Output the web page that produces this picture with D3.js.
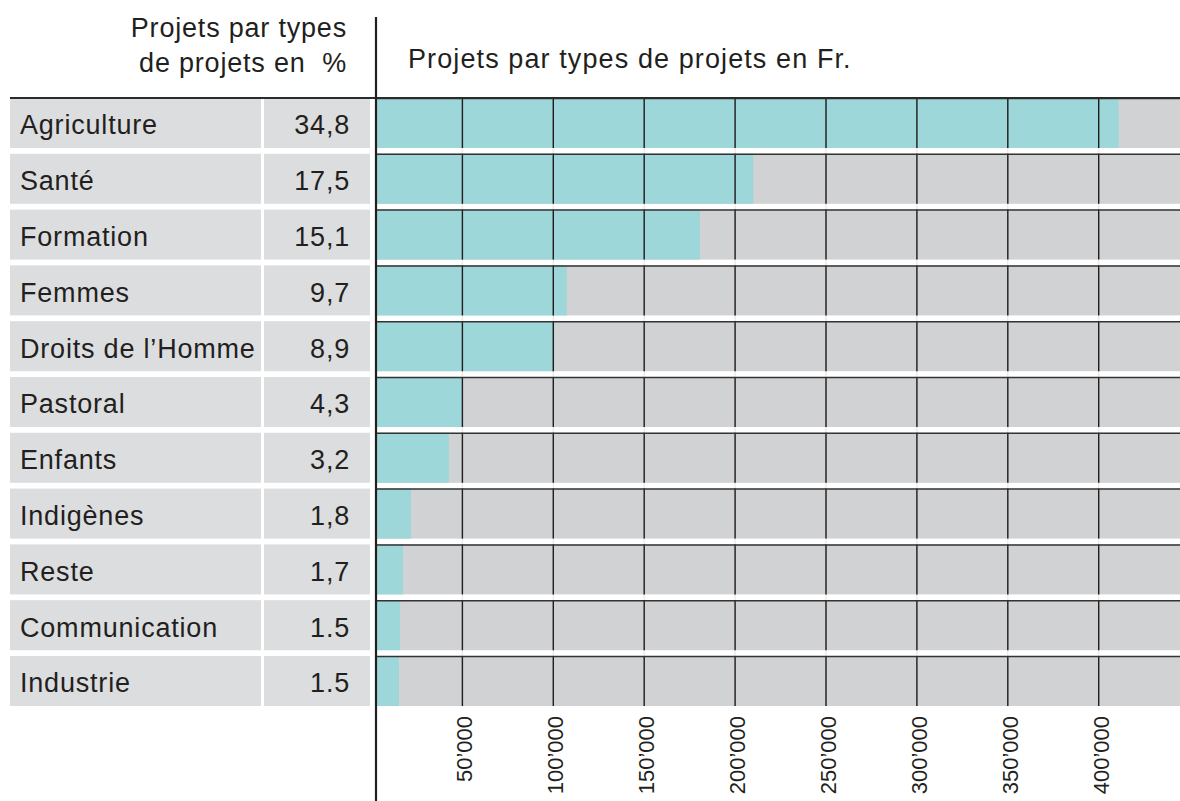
<!DOCTYPE html>
<html>
<head>
<meta charset="utf-8">
<script src="https://cdn.jsdelivr.net/npm/d3@7"></script>
<style>
  body { margin: 0; background: #fff; }
  text { font-family: "Liberation Sans", Arial, Helvetica, sans-serif; fill: #231f20; }
</style>
</head>
<body>
<div id="chart"></div>
<script>
// data
var categories = ["Agriculture", "Santé", "Formation", "Femmes", "Droits de l\u2019Homme",
    "Pastoral", "Enfants", "Indigènes", "Reste", "Communication", "Industrie"];
var percentLabels = ["34,8", "17,5", "15,1", "9,7", "8,9", "4,3", "3,2", "1,8", "1,7", "1.5", "1.5"];
var amounts = [411000, 210000, 180700, 107400, 100500, 50000, 42600, 21700, 17300, 15700, 15100];
var tickValues = [50000, 100000, 150000, 200000, 250000, 300000, 350000, 400000];

var width = 1180,
    height = 801;

var teal = "#9dd7da",
    barBg = "#d1d2d4",
    cellBg = "#dcdddf",
    ink = "#231f20";

var svg = d3.select("#chart")
    .append("svg")
    .attr("width", width)
    .attr("height", height);

// scales
var y = d3.scaleBand()
    .domain(categories)
    .range([98, 706])
    .paddingInner(0.104)
    .paddingOuter(0);

var x = d3.scaleLinear()
    .domain([0, 400000])
    .range([371.5, 1098.7]);

var axisX = 376,
    labelLeft = 10,
    labelRight = 261,
    valueLeft = 264,
    valueRight = 370;

var font = 27,
    spacing = 0.8;

// headers
var leftHead = svg.append("text")
    .attr("text-anchor", "end")
    .style("font-size", font + "px")
    .style("letter-spacing", spacing + "px")
    .style("white-space", "pre");
leftHead.append("tspan").attr("x", 347).attr("y", 37).text("Projets par types");
leftHead.append("tspan").attr("x", 347).attr("y", 72).text("de projets en  %");

svg.append("text")
    .attr("x", 408)
    .attr("y", 68)
    .style("font-size", font + "px")
    .style("letter-spacing", "1.1px")
    .text("Projets par types de projets en Fr.");

// rows
var rows = svg.append("g")
    .selectAll("g")
    .data(categories)
    .enter()
    .append("g")
    .attr("transform", function(d) { return "translate(0," + y(d) + ")"; });

rows.append("rect")
    .attr("x", labelLeft)
    .attr("width", labelRight - labelLeft)
    .attr("height", y.bandwidth())
    .style("fill", cellBg);

rows.append("rect")
    .attr("x", valueLeft)
    .attr("width", valueRight - valueLeft)
    .attr("height", y.bandwidth())
    .style("fill", cellBg);

rows.append("rect")
    .attr("x", axisX)
    .attr("width", width - axisX)
    .attr("height", y.bandwidth())
    .style("fill", barBg);

rows.append("rect")
    .attr("x", axisX)
    .attr("width", function(d, i) { return x(amounts[i]) - axisX; })
    .attr("height", y.bandwidth())
    .style("fill", teal);

rows.append("text")
    .attr("x", 20)
    .attr("y", y.bandwidth() / 2 + 11.5)
    .style("font-size", font + "px")
    .style("letter-spacing", spacing + "px")
    .text(function(d) { return d; });

rows.append("text")
    .attr("x", 350)
    .attr("y", y.bandwidth() / 2 + 11.5)
    .attr("text-anchor", "end")
    .style("font-size", font + "px")
    .style("letter-spacing", spacing + "px")
    .text(function(d, i) { return percentLabels[i]; });

// faint grid through the gaps
svg.append("g")
    .selectAll("line")
    .data(tickValues)
    .enter()
    .append("line")
    .attr("x1", function(d) { return x(d); })
    .attr("x2", function(d) { return x(d); })
    .attr("y1", y.range()[0])
    .attr("y2", y.range()[1])
    .attr("stroke", ink)
    .attr("stroke-opacity", 0.1)
    .attr("stroke-width", 1.3);

// grid inside each row
rows.selectAll(".grid")
    .data(tickValues)
    .enter()
    .append("line")
    .attr("class", "grid")
    .attr("x1", function(d) { return x(d); })
    .attr("x2", function(d) { return x(d); })
    .attr("y1", 0)
    .attr("y2", y.bandwidth())
    .attr("stroke", ink)
    .attr("stroke-width", 1.4);

// row top lines in the chart area
rows.append("line")
    .attr("x1", axisX)
    .attr("x2", width)
    .attr("y1", 0.5)
    .attr("y2", 0.5)
    .attr("stroke", "#333")
    .attr("stroke-width", 1.5);

// header rule
svg.append("line")
    .attr("x1", labelLeft)
    .attr("x2", width)
    .attr("y1", 98)
    .attr("y2", 98)
    .attr("stroke", "#2b2b2b")
    .attr("stroke-width", 2);

// vertical axis line
svg.append("line")
    .attr("x1", axisX)
    .attr("x2", axisX)
    .attr("y1", 17)
    .attr("y2", height)
    .attr("stroke", ink)
    .attr("stroke-width", 2.2);

// rotated tick labels
svg.append("g")
    .selectAll("text")
    .data(tickValues)
    .enter()
    .append("text")
    .attr("transform", function(d) {
        return "translate(" + (x(d) + 10) + "," + 716 + ") rotate(-90)";
    })
    .attr("text-anchor", "end")
    .style("font-size", "22px")
    .text(function(d) { return (d / 1000) + "\u2019000"; });
</script>
</body>
</html>
